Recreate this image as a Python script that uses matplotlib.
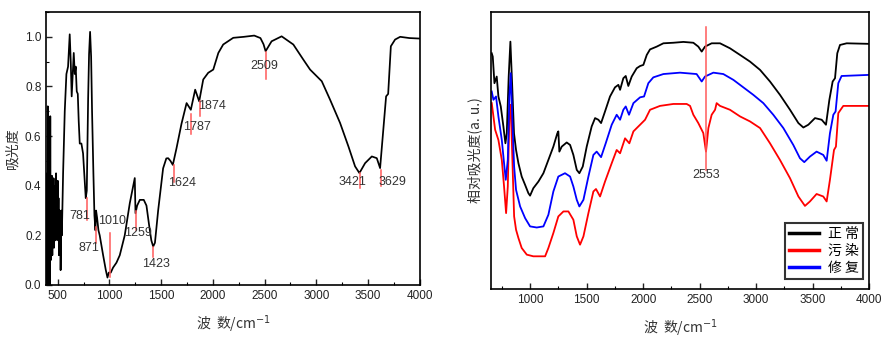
import matplotlib
matplotlib.use('Agg')
import matplotlib.pyplot as plt
from matplotlib.ticker import MultipleLocator

plt.rcParams['font.family'] = ['Liberation Sans', 'Noto Sans CJK SC', 'DejaVu Sans']

# left panel: FTIR spectrum (wavenumber, absorbance)
left_w = [392, 396, 400, 404, 408, 412, 416, 420, 424, 428, 432, 436, 440, 444, 448, 452, 456,
          460, 464, 468, 472, 476, 480, 484, 488, 492, 496, 500, 504, 508, 512, 516, 520, 524,
          528, 534, 540, 552, 568, 584, 600, 616, 626, 635, 645, 655, 665, 674, 684, 694, 703,
          713, 729, 745, 761, 771, 781, 794, 803, 813, 823, 832, 845, 855, 865, 871, 881, 894,
          906, 939, 965, 981, 994, 1013, 1035, 1068, 1100, 1148, 1197, 1230, 1245, 1252, 1268,
          1294, 1332, 1358, 1384, 1405, 1423, 1440, 1471, 1519, 1550, 1568, 1590, 1613, 1648,
          1697, 1746, 1787, 1829, 1868, 1907, 1955, 2004, 2053, 2100, 2197, 2300, 2400, 2460,
          2490, 2510, 2568, 2665, 2778, 2875, 2940, 3053, 3133, 3230, 3311, 3375, 3417, 3472,
          3537, 3585, 3617, 3643, 3675, 3695, 3721, 3762, 3811, 3900, 4000]
left_a = [0.0, 0.45, 0.05, 0.72, 0.0, 0.3, 0.05, 0.4, 0.0, 0.68, 0.1, 0.35, 0.15, 0.44, 0.12,
          0.38, 0.2, 0.43, 0.15, 0.35, 0.22, 0.4, 0.18, 0.45, 0.2, 0.38, 0.25, 0.42, 0.18, 0.35,
          0.12, 0.3, 0.2, 0.28, 0.06, 0.3, 0.2, 0.45, 0.7, 0.85, 0.88, 1.01, 0.9, 0.76, 0.85,
          0.935, 0.85, 0.88, 0.78, 0.77, 0.66, 0.57, 0.57, 0.53, 0.42, 0.35, 0.38, 0.75, 0.93,
          1.02, 0.92, 0.7, 0.45, 0.28, 0.22, 0.3, 0.27, 0.22, 0.2, 0.12, 0.06, 0.03, 0.05, 0.05,
          0.07, 0.09, 0.12, 0.2, 0.33, 0.40, 0.431, 0.289, 0.32, 0.343, 0.343, 0.32, 0.24,
          0.18, 0.155, 0.17, 0.3, 0.47, 0.51, 0.511, 0.50, 0.484, 0.55, 0.65, 0.733, 0.706,
          0.787, 0.74, 0.828, 0.855, 0.868, 0.935, 0.969, 0.996, 1.0, 1.005, 0.995, 0.97, 0.942,
          0.982, 1.002, 0.969, 0.908, 0.868, 0.821, 0.747, 0.653, 0.558, 0.478, 0.451, 0.491,
          0.518, 0.511, 0.471, 0.599, 0.760, 0.77, 0.962, 0.989, 1.0, 0.995, 0.993]

peaks = [781, 871, 1010, 1259, 1423, 1624, 1787, 1874, 2509, 3421, 3629]
peak_top = [0.35, 0.235, 0.21, 0.30, 0.155, 0.485, 0.69, 0.74, 0.94, 0.45, 0.464]
peak_bot = [0.262, 0.168, 0.034, 0.22, 0.114, 0.417, 0.61, 0.68, 0.83, 0.39, 0.397]

# right panel: relative absorbance, three samples
normal_w = [661, 670, 685, 705, 720, 741, 764, 782, 794, 811, 826, 841, 858, 876, 897, 926, 956,
            985, 1000, 1029, 1074, 1118, 1162, 1206, 1241, 1250, 1259, 1280, 1324, 1354, 1383,
            1413, 1436, 1466, 1501, 1545, 1575, 1604, 1628, 1663, 1707, 1751, 1781, 1796, 1825,
            1846, 1869, 1899, 1943, 1973, 2002, 2032, 2061, 2120, 2179, 2267, 2356, 2444, 2488,
            2518, 2547, 2606, 2680, 2768, 2857, 2945, 3034, 3122, 3210, 3299, 3373, 3417, 3461,
            3520, 3579, 3617, 3647, 3676, 3697, 3717, 3741, 3800, 4000]
normal_v = [0.851, 0.839, 0.743, 0.767, 0.695, 0.659, 0.587, 0.526, 0.562, 0.767, 0.893, 0.743,
            0.562, 0.502, 0.454, 0.406, 0.376, 0.346, 0.337, 0.364, 0.388, 0.418, 0.466, 0.514,
            0.562, 0.569, 0.496, 0.514, 0.529, 0.520, 0.484, 0.430, 0.418, 0.442, 0.514, 0.587,
            0.617, 0.611, 0.599, 0.641, 0.695, 0.728, 0.737, 0.719, 0.761, 0.769, 0.733, 0.767,
            0.797, 0.805, 0.809, 0.845, 0.865, 0.875, 0.887, 0.889, 0.892, 0.889, 0.875, 0.857,
            0.875, 0.887, 0.887, 0.869, 0.845, 0.821, 0.791, 0.749, 0.701, 0.647, 0.599, 0.583,
            0.593, 0.617, 0.611, 0.593, 0.683, 0.749, 0.761, 0.851, 0.881, 0.887, 0.885]

polluted_w = [661, 691, 720, 750, 770, 788, 803, 817, 829, 841, 859, 876, 897, 926, 971, 1029,
              1088, 1133, 1162, 1206, 1250, 1295, 1339, 1383, 1413, 1442, 1472, 1516, 1560,
              1583, 1619, 1663, 1722, 1766, 1796, 1840, 1878, 1914, 1973, 2017, 2061, 2149,
              2267, 2385, 2415, 2444, 2488, 2532, 2556, 2577, 2606, 2636, 2650, 2680, 2768,
              2857, 2945, 3034, 3122, 3210, 3299, 3373, 3431, 3475, 3534, 3593, 3623, 3652,
              3688, 3705, 3726, 3770, 4000]
polluted_v = [0.671, 0.575, 0.538, 0.466, 0.370, 0.274, 0.370, 0.623, 0.665, 0.502, 0.262,
              0.214, 0.184, 0.148, 0.124, 0.118, 0.118, 0.118, 0.148, 0.202, 0.262, 0.280,
              0.280, 0.250, 0.190, 0.160, 0.190, 0.274, 0.352, 0.361, 0.334, 0.388, 0.454,
              0.502, 0.490, 0.544, 0.526, 0.569, 0.593, 0.611, 0.647, 0.661, 0.668, 0.668,
              0.661, 0.629, 0.599, 0.563, 0.496, 0.581, 0.629, 0.647, 0.671, 0.661, 0.647,
              0.623, 0.605, 0.581, 0.526, 0.466, 0.400, 0.334, 0.300, 0.316, 0.343, 0.334,
              0.316, 0.394, 0.502, 0.514, 0.635, 0.661, 0.661]

repaired_w = [661, 676, 699, 720, 750, 770, 785, 803, 817, 829, 841, 859, 876, 912, 956, 1000,
              1059, 1118, 1162, 1206, 1250, 1309, 1354, 1383, 1413, 1436, 1472, 1516, 1560,
              1589, 1628, 1669, 1722, 1766, 1796, 1825, 1846, 1875, 1914, 1973, 2008, 2046,
              2090, 2179, 2326, 2473, 2518, 2547, 2621, 2709, 2798, 2886, 2974, 3063, 3151,
              3240, 3328, 3387, 3425, 3475, 3534, 3593, 3623, 3652, 3682, 3702, 3726, 3755, 4000]
repaired_v = [0.713, 0.683, 0.695, 0.623, 0.538, 0.454, 0.394, 0.466, 0.695, 0.779, 0.635,
              0.442, 0.358, 0.298, 0.256, 0.226, 0.222, 0.226, 0.268, 0.352, 0.406, 0.418,
              0.406, 0.370, 0.322, 0.298, 0.322, 0.406, 0.484, 0.496, 0.476, 0.526, 0.593,
              0.629, 0.611, 0.647, 0.659, 0.629, 0.671, 0.692, 0.695, 0.743, 0.764, 0.776,
              0.781, 0.776, 0.749, 0.767, 0.781, 0.776, 0.755, 0.728, 0.701, 0.671, 0.629,
              0.581, 0.520, 0.472, 0.458, 0.478, 0.496, 0.484, 0.463, 0.562, 0.629, 0.641,
              0.743, 0.769, 0.773]

cjk = ['Noto Sans CJK SC', 'DejaVu Sans']
fig = plt.figure(figsize=(8.81, 3.39), dpi=100)

# ---- left
ax1 = fig.add_axes([0.0526, 0.1593, 0.4238, 0.8053])
ax1.plot(left_w, left_a, color='black', lw=1.25)
for p, t, b in zip(peaks, peak_top, peak_bot):
    ax1.plot([p, p], [b, t], color='#ff5a5a', lw=1.1)
lab_pos = [(713, 0.276), (803, 0.148), (1026, 0.258), (1277, 0.21), (1455, 0.083),
           (1706, 0.41), (1842, 0.636), (1990, 0.72), (2494, 0.881), (3348, 0.413), (3739, 0.413)]
for p, (lx, ly) in zip(peaks, lab_pos):
    ax1.text(lx, ly, str(p), fontsize=9, color='#333333', ha='center', va='center')
ax1.set_xlim(390, 4000)
ax1.set_ylim(0, 1.1)
ax1.xaxis.set_major_locator(MultipleLocator(500))
ax1.xaxis.set_minor_locator(MultipleLocator(250))
ax1.yaxis.set_minor_locator(MultipleLocator(0.1))
ax1.set_yticks([0, 0.2, 0.4, 0.6, 0.8, 1.0])
ax1.yaxis.set_major_formatter(matplotlib.ticker.FormatStrFormatter('%.1f'))
ax1.tick_params(direction='in', labelsize=8.5, length=4, width=1, colors='#222222')
ax1.tick_params(which='minor', direction='in', length=2.5, width=0.8)
ax1.set_ylabel('吸光度', family=cjk, fontsize=10, color='#333333', labelpad=4)
ax1.set_xlabel('波  数/cm$^{-1}$', family=cjk, fontsize=10, color='#333333', labelpad=8)
for s in ax1.spines.values():
    s.set_linewidth(1.2)

# ---- right
ax2 = fig.add_axes([0.557, 0.1475, 0.4297, 0.8171])
ax2.plot(normal_w, normal_v, color='black', lw=1.3, label='正 常')
ax2.plot(polluted_w, polluted_v, color='#ff0000', lw=1.3, label='污 染')
ax2.plot(repaired_w, repaired_v, color='#0000ff', lw=1.3, label='修 复')
ax2.plot([2553, 2553], [0.43, 0.947], color='#ff5a5a', lw=1.1)
ax2.text(2553, 0.41, '2553', fontsize=9, color='#333333', ha='center', va='center')
ax2.set_xlim(652, 4000)
ax2.set_ylim(0, 1)
ax2.set_yticks([])
ax2.xaxis.set_minor_locator(MultipleLocator(250))
ax2.set_xticks([1000, 1500, 2000, 2500, 3000, 3500, 4000])
ax2.tick_params(direction='in', labelsize=8.5, length=4, width=1, colors='#222222')
ax2.tick_params(which='minor', direction='in', length=2.5, width=0.8)
ax2.set_ylabel('相对吸光度(a. u.)', family=cjk, fontsize=10, color='#333333', labelpad=6)
ax2.set_xlabel('波  数/cm$^{-1}$', family=cjk, fontsize=10, color='#333333', labelpad=8)
for s in ax2.spines.values():
    s.set_linewidth(1.2)
leg = ax2.legend(loc='lower right', bbox_to_anchor=(0.983, 0.036), borderaxespad=0,
                 prop={'family': cjk, 'size': 10}, fancybox=False, handlelength=2.2,
                 handletextpad=0.6, labelspacing=0.2, borderpad=0.3)
leg.get_frame().set_edgecolor('black')
leg.get_frame().set_linewidth(1.5)
for line in leg.get_lines():
    line.set_linewidth(2.5)

plt.savefig('out.png', dpi=100)
